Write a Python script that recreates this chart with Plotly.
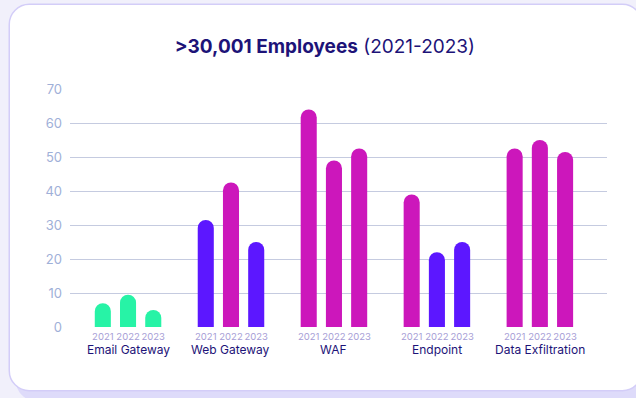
import plotly.graph_objects as go

# --- data -------------------------------------------------------------
categories = ["Email Gateway", "Web Gateway", "WAF", "Endpoint", "Data Exfiltration"]
years = ["2021", "2022", "2023"]
values_2021 = [7, 31.5, 64, 39, 52.5]
values_2022 = [9.5, 42.5, 49, 22, 55]
values_2023 = [5, 25, 52.5, 25, 51.5]
y_ticks = [0, 10, 20, 30, 40, 50, 60, 70]

# --- layout constants -------------------------------------------------
W, H = 636, 398
M_L, M_R, M_T, M_B = 70, 29.3, 89, 71
PW, PH = W - M_L - M_R, H - M_T - M_B

GREEN, PURPLE, MAGENTA = "#27f3a6", "#5c17ff", "#cc17bb"
NAVY = "#1d1378"
BAR_OFFSET = 0.245
BAR_WIDTH = 0.156


def bar_color(v):
    if v < 10:
        return GREEN
    if v < 35:
        return PURPLE
    return MAGENTA


def px(x, y):
    """pixel position -> paper coordinates"""
    return (x - M_L) / PW, (H - M_B - y) / PH


def round_rect(x0, y0, x1, y1, r):
    k = 0.5523 * r

    def p(x, y):
        a, b = px(x, y)
        return f"{a:.5f},{b:.5f}"

    pts = [
        f"M{p(x0 + r, y0)}",
        f"L{p(x1 - r, y0)}",
        f"C{p(x1 - r + k, y0)} {p(x1, y0 + r - k)} {p(x1, y0 + r)}",
        f"L{p(x1, y1 - r)}",
        f"C{p(x1, y1 - r + k)} {p(x1 - r + k, y1)} {p(x1 - r, y1)}",
        f"L{p(x0 + r, y1)}",
        f"C{p(x0 + r - k, y1)} {p(x0, y1 - r + k)} {p(x0, y1 - r)}",
        f"L{p(x0, y0 + r)}",
        f"C{p(x0, y0 + r - k)} {p(x0 + r - k, y0)} {p(x0 + r, y0)}",
        "Z",
    ]
    return " ".join(pts)


fig = go.Figure()

series = [values_2021, values_2022, values_2023]
offsets = [-BAR_OFFSET, 0, BAR_OFFSET]
for yr, vals, off in zip(years, series, offsets):
    fig.add_trace(go.Bar(
        x=[i + off for i in range(len(categories))],
        y=vals,
        width=BAR_WIDTH,
        name=yr,
        marker=dict(color=[bar_color(v) for v in vals], line=dict(width=0)),
        hoverinfo="skip",
    ))

tick_x, tick_text = [], []
for i in range(len(categories)):
    for yr, off in zip(years, offsets):
        tick_x.append(i + off)
        tick_text.append(yr)

annotations = [
    dict(x=i, y=(H - M_B - 349.5) / PH, xref="x", yref="paper",
         text=c, showarrow=False, xanchor="center", yanchor="middle",
         font=dict(family="Inter", size=12, color=NAVY))
    for i, c in enumerate(categories)
]

shapes = [
    # card shadow
    dict(type="path", xref="paper", yref="paper", layer="below",
         path=round_rect(16, 12, 650, 401, 20),
         fillcolor="#dedbfa", line=dict(width=0)),
    # card
    dict(type="path", xref="paper", yref="paper", layer="below",
         path=round_rect(9.3, 4.3, 642, 390.7, 20),
         fillcolor="#ffffff", line=dict(color="#d3cdf8", width=1.5)),
]

fig.update_layout(
    width=W, height=H,
    margin=dict(l=M_L, r=M_R, t=M_T, b=M_B, pad=0),
    paper_bgcolor="#f1f0fb",
    plot_bgcolor="rgba(0,0,0,0)",
    font=dict(family="Inter"),
    showlegend=False,
    barmode="overlay",
    barcornerradius=8,
    title=dict(
        text="<b>>30,001 Employees</b> (2021-2023)",
        x=(324.7 - M_L) / PW, xref="paper", xanchor="center",
        y=1 - 46.7 / H, yref="container", yanchor="middle",
        font=dict(family="Inter", size=19, color=NAVY),
    ),
    xaxis=dict(
        range=[-(128 - M_L) / 102.9, (W - M_R - 128) / 102.9],
        tickvals=tick_x, ticktext=tick_text, tickangle=0,
        tickfont=dict(family="Inter", size=9.5, color="#a79ed6"),
        ticks="", showgrid=False, zeroline=False,
        showline=True, linecolor="#ffffff", linewidth=2,
        fixedrange=True,
    ),
    yaxis=dict(
        range=[0, 70],
        tickvals=y_ticks,
        tickfont=dict(family="Inter", size=13, color="#9fb0d8"),
        ticks="", gridcolor="#c5cbe0", gridwidth=1,
        zeroline=False, showline=False,
        ticklabelstandoff=7,
        fixedrange=True,
    ),
    annotations=annotations,
    shapes=shapes,
)

fig.write_html("out.html", config=dict(displayModeBar=False))
